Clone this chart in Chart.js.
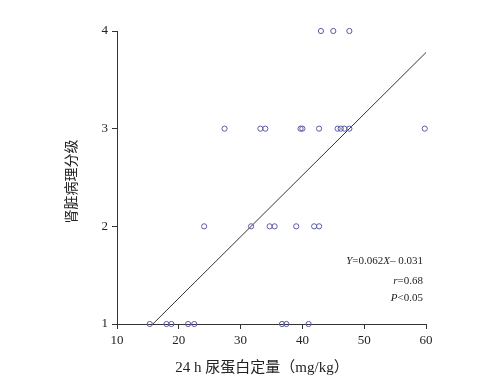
<!DOCTYPE html>
<html><head><meta charset="utf-8">
<script src="https://cdn.jsdelivr.net/npm/chart.js"></script>
<style>html,body{margin:0;padding:0;background:#fff}#wrap{width:482px;height:386px}</style>
</head><body><div id="wrap"><canvas id="c" width="482" height="386"></canvas></div>
<script>
// Data
const grade1X = [15.3, 18.0, 18.8, 21.5, 22.5, 36.7, 37.4, 41.0];
const grade2X = [24.1, 31.7, 34.7, 35.5, 39.0, 41.9, 42.7];
const grade3X = [27.4, 33.2, 34.0, 39.7, 40.0, 42.7, 45.7, 46.2, 46.8, 47.6, 59.8];
const grade4X = [43.0, 45.0, 47.6];
const fitLineX = [15.8, 60];
const fitLineY = [1, 3.78];
const xTicks = [10, 20, 30, 40, 50, 60];
const yTicks = [1, 2, 3, 4];
const xTitle = '24 h 尿蛋白定量（mg/kg）';
const yTitle = '肾脏病理分级';
const annoLines = ['Y=0.062X– 0.031', 'r=0.68', 'P<0.05'];

const points = [];
[[grade1X,1],[grade2X,2],[grade3X,3],[grade4X,4]].forEach(([xs,g]) => xs.forEach(x => points.push({x:x, y:g})));
const linePts = fitLineX.map((x,i) => ({x:x, y:fitLineY[i]}));

const serif = '"Liberation Serif", "DejaVu Serif", serif';
const cjk = '"Liberation Serif", "Noto Sans CJK SC", serif';

const textPlugin = {
  id: 'texts',
  afterDraw(chart) {
    const ctx = chart.ctx;
    const a = chart.chartArea;
    ctx.save();
    ctx.fillStyle = '#222';
    // x title
    ctx.font = '15px ' + cjk;
    ctx.textAlign = 'center';
    ctx.textBaseline = 'middle';
    ctx.fillText(xTitle, 262, 368);
    // y title
    ctx.translate(72, (a.top + a.bottom) / 2 + 4);
    ctx.rotate(-Math.PI / 2);
    ctx.font = '14px ' + cjk;
    ctx.fillText(yTitle, 0, 0);
    ctx.restore();
    // annotation
    ctx.save();
    ctx.fillStyle = '#222';
    ctx.textAlign = 'right';
    ctx.textBaseline = 'middle';
    const ys = [261, 281, 298];
    const italicMap = [[['Y',true],['=0.062',false],['X',true],['– 0.031',false]],[['r',true],['=0.68',false]],[['P',true],['<0.05',false]]];
    italicMap.forEach((parts, i) => {
      // measure total width
      let total = 0;
      parts.forEach(([t,it]) => { ctx.font = (it?'italic ':'') + '11px ' + serif; total += ctx.measureText(t).width; });
      let x = 423 - total;
      ctx.textAlign = 'left';
      parts.forEach(([t,it]) => { ctx.font = (it?'italic ':'') + '11px ' + serif; ctx.fillText(t, x, ys[i]); x += ctx.measureText(t).width; });
    });
    ctx.restore();
  }
};

new Chart(document.getElementById('c'), {
  type: 'scatter',
  data: {
    datasets: [
      { data: points, pointStyle: 'circle', pointRadius: 2.6, pointBorderWidth: 1, pointBorderColor: '#5a5aa8', pointBackgroundColor: 'rgba(0,0,0,0)', clip: false, order: 1 },
      { data: linePts, showLine: true, pointRadius: 0, borderColor: '#333', borderWidth: 1, clip: false, order: 2 }
    ]
  },
  options: {
    responsive: false,
    animation: false,
    devicePixelRatio: 1,
    layout: { padding: { left: 0, right: 56, top: 31, bottom: 0 } },
    plugins: { legend: { display: false }, tooltip: { enabled: false } },
    scales: {
      x: {
        type: 'linear', min: 10, max: 60,
        afterBuildTicks: s => { s.ticks = xTicks.map(v => ({value: v})); },
        afterFit: s => { s.height = 62; },
        grid: { display: true, drawOnChartArea: false, drawTicks: true, tickLength: 5, color: '#333' },
        border: { display: true, color: '#333', width: 1 },
        ticks: { color: '#222', font: { family: serif, size: 13 }, padding: 4, maxRotation: 0 }
      },
      y: {
        type: 'linear', min: 1, max: 4,
        afterBuildTicks: s => { s.ticks = yTicks.map(v => ({value: v})); },
        afterFit: s => { s.width = 117; },
        grid: { display: true, drawOnChartArea: false, drawTicks: true, tickLength: 5, color: '#333' },
        border: { display: true, color: '#333', width: 1 },
        ticks: { color: '#222', font: { family: serif, size: 13 }, padding: 4 }
      }
    }
  },
  plugins: [textPlugin]
});
</script></body></html>
